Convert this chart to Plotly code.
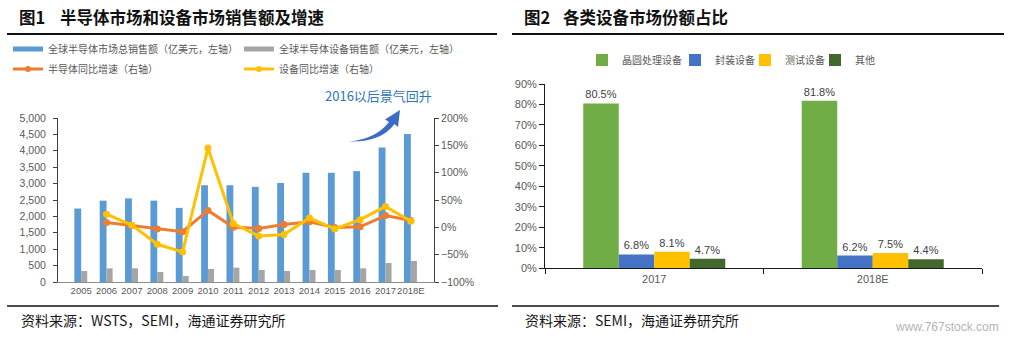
import plotly.graph_objects as go

W, H = 1009, 338


def px(x):
    return x / W


def py(y):
    return 1 - y / H


# ---------------- data ----------------
years = ['2005', '2006', '2007', '2008', '2009', '2010', '2011', '2012',
         '2013', '2014', '2015', '2016', '2017', '2018E']
semi_sales = [2240, 2480, 2550, 2480, 2260, 2950, 2950, 2900, 3020, 3330, 3330, 3380, 4100, 4510]
equip_sales = [335, 417, 417, 305, 183, 396, 437, 366, 335, 366, 366, 417, 579, 640]
semi_growth = [None, 0.09, 0.03, -0.03, -0.08, 0.31, 0.00, -0.02, 0.05, 0.10, -0.005, 0.01, 0.216, 0.124]
equip_growth = [None, 0.24, 0.04, -0.31, -0.45, 1.45, 0.07, -0.16, -0.13, 0.17, -0.03, 0.14, 0.38, 0.11]

share_years = ['2017', '2018E']
wafer_share = [0.805, 0.818]
pack_share = [0.068, 0.062]
test_share = [0.081, 0.075]
other_share = [0.047, 0.044]

left_y_ticks = [0, 500, 1000, 1500, 2000, 2500, 3000, 3500, 4000, 4500, 5000]
right_y_ticks = [-1.0, -0.5, 0.0, 0.5, 1.0, 1.5, 2.0]
share_ticks = [0, 0.1, 0.2, 0.3, 0.4, 0.5, 0.6, 0.7, 0.8, 0.9]

BLUE = '#5B9BD5'
GREY = '#A5A5A5'
ORANGE = '#ED7D31'
YELLOW = '#FFC000'
G1 = '#70AD47'
B2 = '#4472C4'
Y2 = '#FFC000'
G2 = '#43682B'
TICK = '#595959'
FONT = 'Liberation Sans, Noto Sans CJK SC, sans-serif'
CJK = 'Noto Sans CJK SC, sans-serif'

fig = go.Figure()

# ---------------- left chart ----------------
fig.add_trace(go.Bar(x=years, y=semi_sales, marker=dict(color=BLUE, line=dict(width=0)),
                     width=0.27, offset=-0.27, showlegend=False, xaxis='x', yaxis='y'))
fig.add_trace(go.Bar(x=years, y=equip_sales, marker=dict(color=GREY, line=dict(width=0)),
                     width=0.24, offset=0.0, showlegend=False, xaxis='x', yaxis='y'))
fig.add_trace(go.Scatter(x=years, y=semi_growth, mode='lines+markers',
                         line=dict(color=ORANGE, width=3), marker=dict(size=7, color=ORANGE),
                         showlegend=False, xaxis='x', yaxis='y2', cliponaxis=False))
fig.add_trace(go.Scatter(x=years, y=equip_growth, mode='lines+markers',
                         line=dict(color=YELLOW, width=3), marker=dict(size=7, color=YELLOW),
                         showlegend=False, xaxis='x', yaxis='y2', cliponaxis=False))

# legend entries (left chart)
leg_entries = [
    ('全球半导体市场总销售额（亿美元，左轴）', BLUE, 'lines', 'legend'),
    ('全球半导体设备销售额（亿美元，左轴）', GREY, 'lines', 'legend2'),
    ('半导体同比增速（右轴）', ORANGE, 'lines+markers', 'legend3'),
    ('设备同比增速（右轴）', YELLOW, 'lines+markers', 'legend4'),
]
for name, col, mode, lg in leg_entries:
    w = 5 if mode == 'lines' else 3
    fig.add_trace(go.Scatter(x=[None], y=[None], mode=mode, name=name,
                             line=dict(color=col, width=w), marker=dict(size=6, color=col),
                             legend=lg, xaxis='x', yaxis='y'))

# ---------------- right chart ----------------
for name, vals, col, lg in [('晶圆处理设备', wafer_share, G1, 'legend5'),
                            ('封装设备', pack_share, B2, 'legend6'),
                            ('测试设备', test_share, Y2, 'legend7'),
                            ('其他', other_share, G2, 'legend8')]:
    fig.add_trace(go.Bar(x=share_years, y=vals, name=name, marker=dict(color=col, line=dict(width=0)),
                         texttemplate='%{y:.1%}', textposition='outside',
                         textfont=dict(size=11, color='#404040', family=FONT),
                         cliponaxis=False, legend=lg, xaxis='x3', yaxis='y3'))

leg_font = dict(size=10, color=TICK, family=CJK)
common_leg = dict(orientation='h', xanchor='left', yanchor='middle', bgcolor='rgba(0,0,0,0)',
                  font=leg_font, itemwidth=30, tracegroupgap=0)

layout_legends = {
    'legend': dict(x=px(8), y=py(49), **common_leg),
    'legend2': dict(x=px(239), y=py(49), **common_leg),
    'legend3': dict(x=px(8), y=py(69), **common_leg),
    'legend4': dict(x=px(239), y=py(69), **common_leg),
    'legend5': dict(x=px(582), y=py(60), **common_leg),
    'legend6': dict(x=px(675), y=py(60), **common_leg),
    'legend7': dict(x=px(745), y=py(60), **common_leg),
    'legend8': dict(x=px(815), y=py(60), **common_leg),
}

axis_font = dict(size=10.5, color=TICK, family=FONT)

fig.update_layout(
    width=W, height=H, autosize=False,
    margin=dict(l=0, r=0, t=0, b=0, pad=0),
    template='none',
    paper_bgcolor='white', plot_bgcolor='rgba(0,0,0,0)',
    font=dict(family=FONT, color=TICK),
    barmode='group', bargap=0.35, bargroupgap=0,
    xaxis=dict(domain=[px(58), px(434)], anchor='y', type='category',
               showgrid=False, showline=True, linecolor='#8c8c8c', linewidth=1,
               ticks='', tickangle=0, tickfont=dict(size=9.5, color=TICK, family=FONT),
               automargin=False, zeroline=False),
    yaxis=dict(domain=[py(282), py(118)], anchor='x', range=[0, 5000],
               tickvals=left_y_ticks, tickformat=',', showgrid=False, zeroline=False,
               showline=True, linecolor='#404040', linewidth=1, ticks='outside', ticklen=4,
               tickcolor='#404040', tickfont=axis_font, ticklabelstandoff=5, automargin=False),
    yaxis2=dict(overlaying='y', side='right', anchor='x', range=[-1, 2],
                tickvals=right_y_ticks, tickformat='.0%', showgrid=False, zeroline=False,
                showline=True, linecolor='#404040', linewidth=1, ticks='outside', ticklen=4,
                tickcolor='#404040', tickfont=axis_font, automargin=False),
    xaxis3=dict(domain=[px(545), px(982)], anchor='y3', type='category',
                showgrid=False, showline=True, linecolor='#1a1a1a', linewidth=1,
                ticks='outside', tickson='boundaries', ticklen=5, tickcolor='#1a1a1a',
                tickfont=dict(size=11, color=TICK, family=FONT), automargin=False, zeroline=False),
    yaxis3=dict(domain=[py(268.3), py(84)], anchor='x3', range=[0, 0.9],
                tickvals=share_ticks, tickformat='.0%', showgrid=False, zeroline=False,
                showline=True, linecolor='#1a1a1a', linewidth=1, ticks='outside', ticklen=5,
                tickcolor='#1a1a1a', tickfont=dict(size=11, color=TICK, family=FONT),
                automargin=False),
    **layout_legends,
)

# ---------------- titles, lines, footers ----------------
ann = []
title_font = dict(size=16.5, color='#111111', family=CJK)
ann.append(dict(text='<b>图1</b>', x=px(17), y=py(17.5), xanchor='left', yanchor='middle', font=title_font))
ann.append(dict(text='<b>半导体市场和设备市场销售额及增速</b>', x=px(58), y=py(17.5), xanchor='left',
                yanchor='middle', font=title_font))
ann.append(dict(text='<b>图2</b>', x=px(522), y=py(17.5), xanchor='left', yanchor='middle', font=title_font))
ann.append(dict(text='<b>各类设备市场份额占比</b>', x=px(561), y=py(17.5), xanchor='left',
                yanchor='middle', font=title_font))
foot_font = dict(size=14, color='#161616', family=CJK)
ann.append(dict(text='资料来源：WSTS，SEMI，海通证券研究所', x=px(19), y=py(319.5), xanchor='left',
                yanchor='middle', font=foot_font))
ann.append(dict(text='资料来源：SEMI，海通证券研究所', x=px(523), y=py(319.5), xanchor='left',
                yanchor='middle', font=foot_font))
ann.append(dict(text='www.767stock.com', x=px(1001), y=py(327), xanchor='right', yanchor='middle',
                font=dict(size=12, color='#b4b4b4', family=FONT)))
ann.append(dict(text='2016以后景气回升', x=px(323), y=py(95), xanchor='left', yanchor='middle',
                font=dict(size=13, color='#2E75B6', family=CJK)))
for a in ann:
    a.update(xref='paper', yref='paper', showarrow=False)
fig.update_layout(annotations=ann)

shapes = []
for x0, x1, y, w in [(7, 497, 34, 2), (512, 1004, 34, 2), (7, 498, 306, 1.5), (512, 999, 306, 1.5)]:
    shapes.append(dict(type='line', xref='paper', yref='paper', x0=px(x0), x1=px(x1),
                       y0=py(y), y1=py(y), line=dict(color='#111111', width=w)))

# curved arrow (pixel coordinates -> paper)
pts = [('M', 349, 141.5), ('Q', 376, 139, 389, 122), ('L', 385, 119.5), ('L', 400, 110),
       ('L', 398, 127), ('L', 394.5, 124), ('Q', 381, 142.5, 349, 141.5)]
path = ''
for p in pts:
    cmd = p[0]
    coords = p[1:]
    s = []
    for i in range(0, len(coords), 2):
        s.append(f'{px(coords[i]):.5f},{py(coords[i + 1]):.5f}')
    path += cmd + ' '.join(s) + ' '
path += 'Z'
shapes.append(dict(type='path', xref='paper', yref='paper', path=path,
                   fillcolor='#3B6CC4', line=dict(width=0)))
fig.update_layout(shapes=shapes)

fig.write_html('out.html')
